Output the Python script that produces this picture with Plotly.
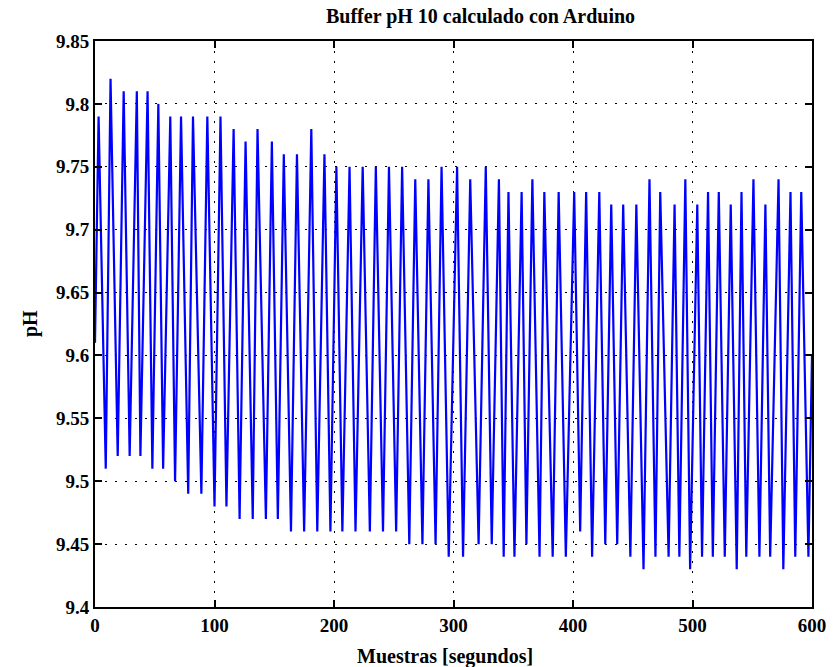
import plotly.graph_objects as go

# Sample index and pH value at each crest of the oscillating reading
peak_x = [3, 13, 24, 35, 44, 53, 63, 72, 82, 94, 105, 116, 126, 136, 148, 158, 169, 181, 192, 202,
          213, 224, 235, 246, 257, 268, 279, 290, 303, 314, 327, 338, 346, 357, 366, 376, 388, 401,
          411, 422, 432, 442, 453, 464, 473, 485, 494, 504, 513, 522, 532, 541, 551, 561, 572, 582, 591]
peak_ph = [9.79, 9.82, 9.81, 9.81, 9.81, 9.80, 9.79, 9.79, 9.79, 9.79,
           9.79, 9.78, 9.77, 9.78, 9.77, 9.76, 9.76, 9.78, 9.76, 9.75,
           9.75, 9.75, 9.75, 9.75, 9.75, 9.74, 9.74, 9.75, 9.75, 9.74,
           9.75, 9.74, 9.73, 9.73, 9.74, 9.73, 9.73, 9.73,
           9.73, 9.73, 9.72, 9.72, 9.72, 9.74, 9.73, 9.72, 9.74, 9.72,
           9.73, 9.73, 9.72, 9.73, 9.74, 9.72, 9.74, 9.73, 9.73]

# Sample index and pH value at each valley
trough_x = [9, 19, 29, 38, 48, 57, 67, 78, 89, 100, 110, 121, 132, 143, 153, 164, 175, 186, 197,
            207, 218, 230, 241, 252, 263, 274, 285, 296, 308, 321, 332, 342, 351, 361, 372, 383, 394,
            406, 416, 427, 437, 448, 459, 469, 480, 489, 498, 508, 517, 527, 537, 545, 556, 565, 576, 586, 597]
trough_ph = [9.51, 9.52, 9.52, 9.52, 9.51, 9.51, 9.50, 9.49, 9.49, 9.48,
             9.48, 9.47, 9.47, 9.47, 9.47, 9.46, 9.46, 9.46, 9.46,
             9.46, 9.46, 9.46, 9.46, 9.46, 9.45, 9.45, 9.45, 9.44, 9.44,
             9.45, 9.45, 9.44, 9.44, 9.45, 9.44, 9.44, 9.44,
             9.46, 9.44, 9.45, 9.45, 9.44, 9.43, 9.44, 9.44, 9.44, 9.43,
             9.44, 9.44, 9.44, 9.43, 9.44, 9.44, 9.44, 9.43, 9.44, 9.44]

# First and last readings
start_x, start_ph = 0, 9.61
end_x, end_ph = 600, 9.60

x_ticks = [0, 100, 200, 300, 400, 500, 600]
y_ticks = [9.4, 9.45, 9.5, 9.55, 9.6, 9.65, 9.7, 9.75, 9.8, 9.85]
y_tick_text = ["9.4", "9.45", "9.5", "9.55", "9.6", "9.65", "9.7", "9.75", "9.8", "9.85"]

# Assemble the series: start, then crest/valley pairs in order, then the end
xs = [start_x]
ys = [start_ph]
for px, py, tx, ty in zip(peak_x, peak_ph, trough_x, trough_ph):
    xs += [px, tx]
    ys += [py, ty]
xs.append(end_x)
ys.append(end_ph)

serif = "Liberation Serif, Times New Roman, serif"
W, H = 839, 667
L, R, T, B = 95, 27, 41, 60

fig = go.Figure()
fig.add_trace(go.Scatter(x=xs, y=ys, mode="lines",
                         line=dict(color="#0000FF", width=2.2), showlegend=False))

axis_common = dict(
    showline=True, linecolor="black", linewidth=2, mirror="ticks",
    ticks="inside", ticklen=7, tickwidth=1.5, tickcolor="black",
    showgrid=True, gridcolor="black", gridwidth=1, griddash="2px,8px",
    zeroline=False,
    tickfont=dict(family=serif, size=19, color="black", weight="bold"),
)

fig.update_xaxes(range=[0, 600], tickvals=x_ticks, ticktext=[str(v) for v in x_ticks],
                 **axis_common)
fig.update_yaxes(range=[9.4, 9.85], tickvals=y_ticks, ticktext=y_tick_text,
                 **axis_common)

fig.update_layout(
    width=W, height=H,
    margin=dict(l=L, r=R, t=T, b=B),
    paper_bgcolor="white", plot_bgcolor="white",
    annotations=[
        dict(text="Buffer pH 10 calculado con Arduino", xref="paper", yref="paper",
             x=(480 - L) / (W - L - R), y=1 + (T - 17) / (H - T - B),
             xanchor="center", yanchor="middle", showarrow=False,
             font=dict(family=serif, size=20, color="black", weight="bold")),
        dict(text="Muestras [segundos]", xref="paper", yref="paper",
             x=(445 - L) / (W - L - R), y=-(656 - (H - B)) / (H - T - B),
             xanchor="center", yanchor="middle", showarrow=False,
             font=dict(family=serif, size=20, color="black", weight="bold")),
        dict(text="pH", xref="paper", yref="paper",
             x=-(L - 30) / (W - L - R), y=0.5, textangle=-90,
             xanchor="center", yanchor="middle", showarrow=False,
             font=dict(family=serif, size=20, color="black", weight="bold")),
    ],
)

fig.write_html("out.html")
